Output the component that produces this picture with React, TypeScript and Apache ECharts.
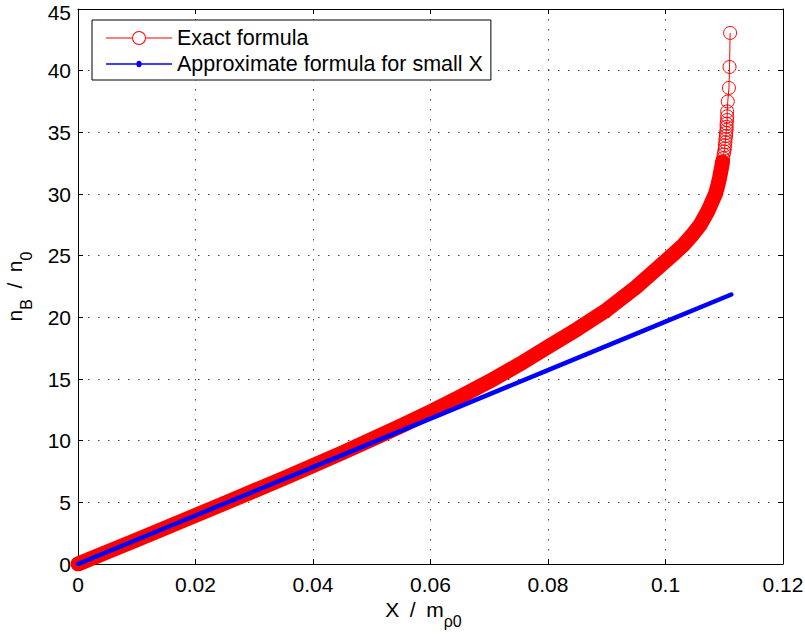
import React, { useEffect, useRef } from 'react';
import * as echarts from 'echarts';

// Exact formula (red circles)
const exactX = [
  0, 0.005, 0.01, 0.015, 0.02, 0.025, 0.03, 0.035, 0.04, 0.045, 0.05, 0.055, 0.06, 0.065,
  0.07, 0.075, 0.08, 0.085, 0.09, 0.095, 0.1, 0.1014, 0.103, 0.1045, 0.1059, 0.1072, 0.1085,
  0.1088, 0.109, 0.1092, 0.1094, 0.1096, 0.1097, 0.1098, 0.1099, 0.11, 0.1101, 0.1101, 0.1102,
  0.1102, 0.1103, 0.1103, 0.1104, 0.1104, 0.1104, 0.1105, 0.1105, 0.1105, 0.1106, 0.1108,
  0.1109, 0.111,
];
const exactY = [
  0, 0.98, 1.96, 2.95, 3.94, 4.94, 5.94, 6.95, 7.97, 9.02, 10.1, 11.2, 12.35, 13.55,
  14.8, 16.15, 17.6, 19.05, 20.6, 22.45, 24.55, 25.15, 25.85, 26.65, 27.5, 28.6, 30.0,
  30.5, 30.9, 31.3, 31.8, 32.3, 32.6, 32.9, 33.2, 33.45, 33.7, 33.95, 34.2,
  34.45, 34.7, 34.95, 35.2, 35.45, 35.7, 36.0, 36.3, 36.7, 37.5, 38.6,
  40.3, 43.06,
];
// Approximate formula for small X (blue)
const approxX = [0, 0.02, 0.04, 0.06, 0.08, 0.1, 0.1112];
const approxY = [0, 3.93, 7.86, 11.79, 15.72, 19.65, 21.85];

const seriesNames = ['Exact formula', 'Approximate formula for small X'];
const xLabel = '{a|X\u2002/\u2002m}{s|ρ0}';
const yLabel = '{a|n}{s|B}{a|\u2002/\u2002n}{s|0}';

const FONT = '"Liberation Sans", Arial, Helvetica, sans-serif';

const redIcon =
  'path://M0,7 L26,7 L26,8 L0,8 Z M40,7 L66,7 L66,8 L40,8 Z M26,7.5 A7,7 0 1 1 40,7.5 A7,7 0 1 1 26,7.5 Z M27,7.5 A6,6 0 1 0 39,7.5 A6,6 0 1 0 27,7.5 Z';
const blueIcon =
  'path://M0,0.75 L30.5,0.75 A2.5,2.5 0 1 1 35.5,0.75 L66,0.75 L66,2.25 L35.5,2.25 A2.5,2.5 0 1 1 30.5,2.25 L0,2.25 Z';

export default function App() {
  const ref = useRef<HTMLDivElement>(null);
  useEffect(() => {
    const chart = echarts.init(ref.current as HTMLDivElement, null, { renderer: 'svg' });
    const exactData = exactX.map((x, i) => [x, exactY[i]]);
    const bandData = exactData.filter((p) => p[1] <= 32.6);
    const approxData = approxX.map((x, i) => [x, approxY[i]]);
    const gridLine = { show: true, lineStyle: { color: '#444', width: 1, type: [1.5, 8.5] } };
    const sideAxis = {
      axisLine: { show: true, onZero: false, lineStyle: { color: '#000', width: 1 } },
      axisTick: { show: true, inside: true, length: 5, lineStyle: { color: '#000' } },
      axisLabel: { show: false },
      splitLine: { show: false },
    };
    const nameRich = {
      a: { fontFamily: FONT, fontSize: 21, lineHeight: 40, color: '#000', verticalAlign: 'middle' },
      s: { fontFamily: FONT, fontSize: 16, lineHeight: 16, color: '#000', verticalAlign: 'bottom' },
    };
    chart.setOption({
      animation: false,
      backgroundColor: '#fff',
      grid: { left: 78, right: 22, top: 9, bottom: 71, containLabel: false, outerBoundsMode: 'none' },
      legend: {
        orient: 'vertical',
        left: 92,
        top: 20,
        padding: [7, 8, 5, 14],
        itemGap: 4,
        itemWidth: 66,
        itemHeight: 15,
        borderColor: '#000',
        borderWidth: 1,
        borderRadius: 0,
        backgroundColor: '#fff',
        selectedMode: false,
        itemStyle: { borderWidth: 0 },
        textStyle: { fontFamily: FONT, fontSize: 21.5, lineHeight: 22, color: '#000' },
        data: [
          { name: seriesNames[0], icon: redIcon, itemStyle: { color: '#ff0000', borderWidth: 0 } },
          { name: seriesNames[1], icon: blueIcon, itemStyle: { color: '#0000ff', borderWidth: 0 } },
        ],
      },
      xAxis: [
        {
          type: 'value',
          min: 0,
          max: 0.12,
          interval: 0.02,
          position: 'bottom',
          name: xLabel,
          nameLocation: 'middle',
          nameGap: 20,
          nameTextStyle: { rich: nameRich, padding: [0, 14, 0, 0] },
          axisLine: { show: true, onZero: false, lineStyle: { color: '#000', width: 1 } },
          axisTick: { show: true, inside: true, length: 5, lineStyle: { color: '#000' } },
          axisLabel: { fontFamily: FONT, fontSize: 21, lineHeight: 18, color: '#000', margin: 11 },
          splitLine: gridLine,
        },
        { type: 'value', min: 0, max: 0.12, interval: 0.02, position: 'top', ...sideAxis },
      ],
      yAxis: [
        {
          type: 'value',
          min: 0,
          max: 45,
          interval: 5,
          position: 'left',
          name: yLabel,
          nameLocation: 'middle',
          nameGap: 44,
          nameTextStyle: { rich: nameRich },
          axisLine: { show: true, onZero: false, lineStyle: { color: '#000', width: 1 } },
          axisTick: { show: true, inside: true, length: 5, lineStyle: { color: '#000' } },
          axisLabel: {
            fontFamily: FONT,
            fontSize: 21,
            lineHeight: 16,
            color: '#000',
            margin: 7,
            formatter: (v: number) => (v === 45 ? '{t|45}' : String(v)),
            rich: {
              t: { fontFamily: FONT, fontSize: 21, lineHeight: 16, color: '#000', padding: [7, 0, 0, 0] },
            },
          },
          splitLine: gridLine,
        },
        { type: 'value', min: 0, max: 45, interval: 5, position: 'right', ...sideAxis },
      ],
      series: [
        {
          type: 'line',
          name: 'band',
          silent: true,
          data: bandData,
          showSymbol: false,
          lineStyle: { color: '#ff0000', width: 15, cap: 'round', join: 'round' },
          z: 2,
        },
        {
          type: 'line',
          name: seriesNames[0],
          silent: true,
          data: exactData,
          symbol: 'circle',
          symbolSize: 13,
          showSymbol: true,
          itemStyle: { color: 'rgba(255,0,0,0)', borderColor: '#ff0000', borderWidth: 1 },
          lineStyle: { color: '#ff0000', width: 1 },
          z: 3,
        },
        {
          type: 'line',
          name: seriesNames[1],
          silent: true,
          data: approxData,
          showSymbol: false,
          itemStyle: { color: '#0000ff' },
          lineStyle: { color: '#0000ff', width: 4.5, cap: 'round' },
          z: 4,
        },
      ],
    });
    return () => chart.dispose();
  }, []);
  return (
    <div
      ref={ref}
      style={{ position: 'fixed', left: 0, top: 0, width: 805, height: 635, background: '#fff' }}
    />
  );
}
